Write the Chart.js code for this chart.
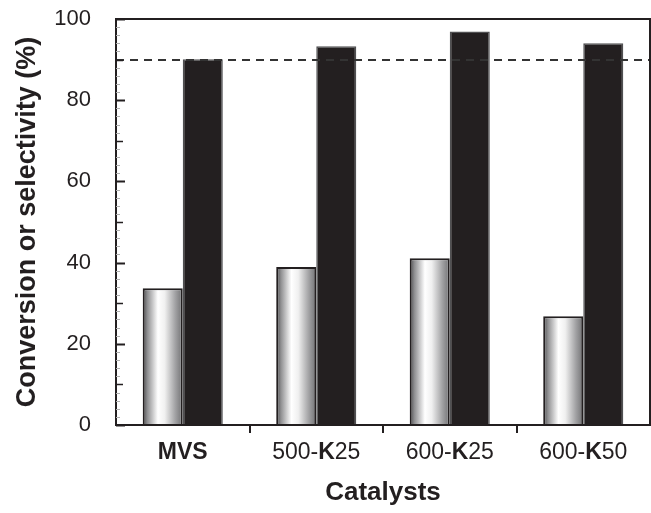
<!DOCTYPE html>
<html>
<head>
<meta charset="utf-8">
<script src="https://cdn.jsdelivr.net/npm/chart.js@4/dist/chart.umd.min.js"></script>
<style>
  html, body { margin: 0; padding: 0; background: #fff; }
  #wrap { width: 651px; height: 513px; }
</style>
</head>
<body>
<div id="wrap"><canvas id="selChart" width="651" height="513"></canvas></div>
<script>
// catalysts on the x axis, each label split in parts [text, bold?]
const catalysts = ['MVS', '500-K25', '600-K25', '600-K50'];
const labelParts = [
  [['MVS', true]],
  [['500-', false], ['K', true], ['25', false]],
  [['600-', false], ['K', true], ['25', false]],
  [['600-', false], ['K', true], ['50', false]]
];
const conversion = [33.7, 38.9, 41.1, 26.8];   // light bars
const selectivity = [90.1, 93.3, 96.9, 94.0];  // dark bars
const refLevel = 90;                            // dashed line
const yTicks = [0, 20, 40, 60, 80, 100];

const FONT = '"Liberation Sans", Arial, sans-serif';
const INK = '#231f20';

// horizontal metallic gradient for the light bars
function lightFill(ctx) {
  const chart = ctx.chart;
  const x = chart.scales.x;
  if (!x || ctx.dataIndex === undefined) return '#ccc';
  const cat = x.getPixelForValue(ctx.dataIndex);
  const w = (x.width / catalysts.length) * 0.6 / 2;
  const l = cat - w, r = cat;
  if (!isFinite(l) || !isFinite(r) || r - l < 1) return '#ccc';
  const g = chart.ctx.createLinearGradient(l, 0, r, 0);
  g.addColorStop(0, '#4a4a4c');
  g.addColorStop(0.12, '#909092');
  g.addColorStop(0.38, '#ffffff');
  g.addColorStop(0.55, '#f0f0f0');
  g.addColorStop(0.82, '#a0a0a2');
  g.addColorStop(1, '#707072');
  return g;
}

const framePlugin = {
  id: 'frame',
  afterDatasetsDraw(chart) {
    const c = chart.ctx, a = chart.chartArea;
    const y = chart.scales.y, x = chart.scales.x;
    c.save();
    // dashed reference line
    c.strokeStyle = '#333';
    c.lineWidth = 2;
    c.setLineDash([8, 6]);
    const yr = Math.round(y.getPixelForValue(refLevel));
    c.beginPath(); c.moveTo(a.left, yr); c.lineTo(a.right, yr); c.stroke();
    c.setLineDash([]);
    // box
    c.strokeStyle = INK;
    c.lineWidth = 2;
    c.strokeRect(a.left, a.top, a.right - a.left, a.bottom - a.top);
    // y ticks, inside
    for (let v = 0; v <= 100; v += 2) {
      const py = Math.round(y.getPixelForValue(v)) + 0.5;
      let len = 4, col = '#b0b0b0', lw = 1;
      if (v % 20 === 0) { len = 9; col = INK; lw = 2; }
      else if (v % 10 === 0) { len = 7; col = INK; lw = 1.5; }
      c.strokeStyle = col; c.lineWidth = lw;
      c.beginPath(); c.moveTo(a.left, py); c.lineTo(a.left + len, py); c.stroke();
    }
    // x ticks between categories, outward
    c.strokeStyle = INK; c.lineWidth = 2;
    for (let i = 1; i < catalysts.length; i++) {
      const px = Math.round((x.getPixelForValue(i - 1) + x.getPixelForValue(i)) / 2);
      c.beginPath(); c.moveTo(px, a.bottom); c.lineTo(px, a.bottom + 8); c.stroke();
    }
    // category labels with bold parts
    c.fillStyle = INK;
    c.textBaseline = 'middle';
    labelParts.forEach((parts, i) => {
      const fonts = parts.map(p => (p[1] ? 'bold ' : '') + '23px ' + FONT);
      let total = 0;
      parts.forEach((p, k) => { c.font = fonts[k]; total += c.measureText(p[0]).width; });
      let px = x.getPixelForValue(i) - total / 2;
      parts.forEach((p, k) => {
        c.font = fonts[k];
        c.textAlign = 'left';
        c.fillText(p[0], px, a.bottom + 28);
        px += c.measureText(p[0]).width;
      });
    });
    c.restore();
  }
};

new Chart(document.getElementById('selChart'), {
  type: 'bar',
  data: {
    labels: catalysts,
    datasets: [{
      label: 'Conversion',
      data: conversion,
      backgroundColor: lightFill,
      borderColor: INK,
      borderWidth: 2,
      borderSkipped: 'bottom'
    }, {
      label: 'Selectivity',
      data: selectivity,
      backgroundColor: INK,
      borderColor: '#505052',
      borderWidth: 1.5,
      borderSkipped: 'bottom'
    }]
  },
  options: {
    responsive: false,
    animation: false,
    layout: { padding: { top: 19, right: 1, left: 4, bottom: 0 } },
    plugins: {
      legend: { display: false },
      tooltip: { enabled: false }
    },
    datasets: {
      bar: { categoryPercentage: 0.6, barPercentage: 1.0 }
    },
    scales: {
      x: {
        afterFit(s) { s.height = 88; s.paddingLeft = 0; s.paddingRight = 0; },
        grid: { display: false },
        border: { display: false },
        ticks: {
          color: 'rgba(0,0,0,0)',
          font: { family: FONT, size: 1 },
          padding: 0
        },
        title: {
          display: true,
          text: 'Catalysts',
          color: INK,
          font: { family: FONT, size: 26, weight: 'bold' },
          padding: { top: 0, bottom: 5 }
        }
      },
      y: {
        min: 0,
        max: 100,
        afterBuildTicks(axis) { axis.ticks = yTicks.map(v => ({ value: v })); },
        afterFit(s) { s.width = 112; s.paddingTop = 0; s.paddingBottom = 0; },
        grid: { display: false },
        border: { display: false },
        ticks: {
          color: INK,
          font: { family: FONT, size: 22 },
          padding: 17
        },
        title: {
          display: true,
          text: 'Conversion or selectivity (%)',
          color: INK,
          font: { family: FONT, size: 27, weight: 'bold' },
          padding: { top: 7, bottom: 0 }
        }
      }
    }
  },
  plugins: [framePlugin]
});
</script>
</body>
</html>
